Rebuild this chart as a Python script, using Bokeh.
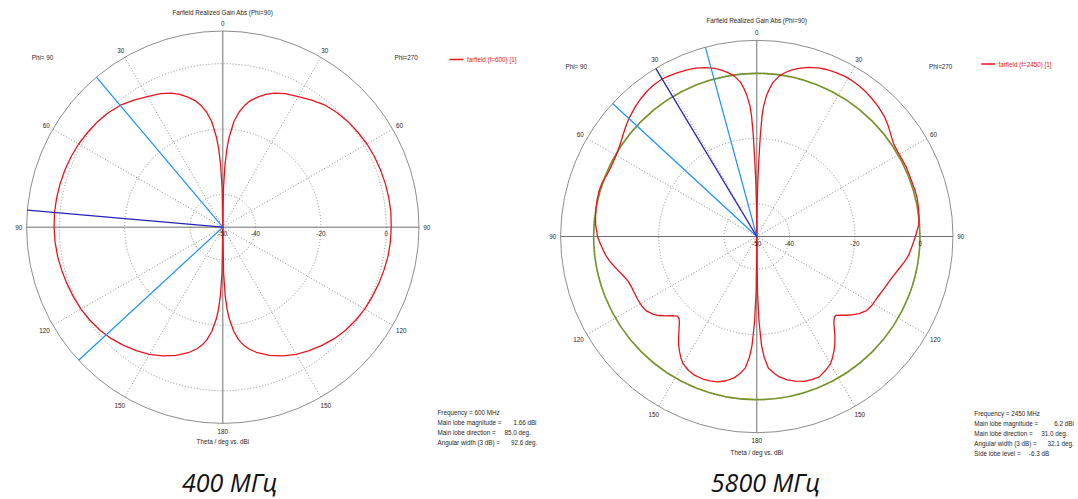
import numpy as np
from bokeh.plotting import figure
from bokeh.layouts import row
from bokeh.models import Range1d
from bokeh.core.properties import value
from bokeh.embed import file_html
from bokeh.resources import INLINE

# ---------------- data ----------------
# Theta (deg) sampling and realized gain (dBi) for both half-planes
theta_600 = [0, 1, 2, 3, 4, 6, 8, 10, 12, 15, 18, 21, 25, 30, 35, 40, 45, 50, 55, 60,
             65, 70, 75, 80, 85, 90, 95, 100, 105, 110, 115, 120, 125, 130, 135, 140,
             145, 150, 155, 160, 165, 168, 170, 172, 174, 176, 177, 178, 179, 180]
gain_600_phi90 = [-50, -38, -31, -26, -22.5, -17.5, -14.5, -12.3, -10.6, -8.8,
                  -7.3, -6.1, -4.9, -3.9, -2.6, -1.3, -0.5, 0.1, 0.5, 0.9,
                  1.15, 1.35, 1.5, 1.6, 1.66, 1.6, 1.5, 1.3, 1.0, 0.7,
                  0.4, 0.1, -0.4, -1.0, -1.8, -2.8, -3.9, -5.1, -6.6, -8.3,
                  -10.4, -12.0, -13.4, -15.3, -18.0, -22.0, -25.0, -29.0, -36.0, -50]
gain_600_phi270 = [-50, -38, -31, -26, -22.5, -17.5, -14.5, -12.3, -10.6, -8.8,
                   -7.3, -6.1, -4.9, -3.9, -2.6, -1.3, -0.5, 0.1, 0.5, 0.9,
                   1.15, 1.3, 1.45, 1.55, 1.6, 1.5, 1.45, 1.3, 1.0, 0.7,
                   0.4, 0.1, -0.4, -1.0, -1.8, -2.8, -3.9, -5.1, -6.6, -8.3,
                   -10.4, -12.0, -13.4, -15.3, -18.0, -22.0, -25.0, -29.0, -36.0, -50]

theta_2450 = [0, 0.5, 1, 1.5, 2, 2.5, 3, 4, 5, 6, 8, 10, 12, 14, 17, 20, 23, 26, 29, 31,
              34, 37, 40, 43, 47, 50, 53, 56, 59, 62, 65, 68, 71, 74, 77, 80, 83, 86, 90, 93,
              97, 100, 103, 106, 109, 112, 115, 118, 121, 124, 127, 129, 131, 133, 135, 136.5,
              138, 140, 142, 144, 146, 148, 150, 153, 156, 159, 162, 165, 168, 171, 173, 175,
              176.5, 177.5, 178.5, 179.3, 180]
gain_2450_phi90 = [-50, -42, -34, -27, -19, -13, -10, -6.8, -4.5, -2.6,
                   -0.4, 0.9, 2.0, 3.0, 4.0, 4.8, 5.3, 5.7, 6.0, 6.2,
                   6.1, 5.7, 5.1, 4.4, 3.3, 2.3, 1.3, 0.4, -0.2, -0.5,
                   -0.6, -0.4, 0.1, 0.2, 0.1, -0.1, -0.3, -0.6, -1.3, -2.2,
                   -3.4, -4.6, -6.0, -7.3, -8.3, -8.7, -8.8, -8.8, -8.9, -9.3,
                   -10.4, -11.6, -13.0, -14.5, -15.6, -15.5, -14.6, -13.0, -11.2, -9.3,
                   -7.7, -6.2, -5.0, -4.0, -3.5, -3.4, -3.6, -4.0, -4.9, -6.3,
                   -7.8, -9.6, -13.0, -16.7, -24.0, -33.0, -50]
gain_2450_phi270 = [-50, -42, -34, -27, -19, -13, -10, -6.6, -4.5, -2.6,
                    -0.4, 1.0, 2.1, 3.0, 4.1, 4.9, 5.4, 5.7, 5.9, 5.9,
                    5.7, 5.4, 4.9, 4.4, 3.5, 2.5, 1.4, 0.5, 0.3, 0.3,
                    0.4, 0.3, 0.3, 0.4, 0.4, 0.2, 0.0, -0.4, -1.5, -2.3,
                    -3.2, -4.3, -5.5, -6.5, -7.3, -7.9, -8.4, -8.8, -9.0, -9.5,
                    -10.8, -12.0, -13.3, -14.7, -15.9, -15.6, -14.8, -13.1, -11.2, -9.4,
                    -7.8, -6.3, -5.0, -3.9, -3.0, -3.1, -3.4, -4.2, -5.2, -6.6,
                    -8.0, -9.6, -13.0, -16.6, -24.0, -33.0, -50]

main_dir_600 = 85.0
beam_edges_600 = [40.1, 132.7]
main_dir_2450 = 31.0
beam_edges_2450 = [15.2, 47.3]
main_mag_2450 = 6.2
side_lobe_2450 = -6.3

ring_levels = [-40, -20, 0]
ring_labels = [-50, -40, -20, 0]
angle_ticks = [0, 30, 60, 90, 120, 150, 180]
dotted_spokes = [30, 60, 120, 150]

title_text = "Farfield Realized Gain Abs (Phi=90)"
axis_text = "Theta / deg vs. dBi"
legend_600 = "farfield (f=600) [1]"
legend_2450 = "farfield (f=2450) [1]"
info_600 = ["Frequency = 600 MHz", "Main lobe magnitude =", "Main lobe direction =",
            "Angular width (3 dB) ="]
vals_600 = ["", "1.66 dBi", "85.0 deg.", "92.6 deg."]
info_2450 = ["Frequency = 2450 MHz", "Main lobe magnitude =", "Main lobe direction =",
             "Angular width (3 dB) =", "Side lobe level ="]
vals_2450 = ["", "6.2 dBi", "31.0 deg.", "32.1 deg.", "-6.3 dB"]
caption_600 = "400 МГц"
caption_2450 = "5800 МГц"

# ---------------- layout / style ----------------
S = 3.27          # px per dB
GMIN, GMAX = -50.0, 10.0
H = 499
SMALL = "6.3px"
FONT = value("Liberation Sans")
RED = "#e8141c"
LBLUE = "#1e8fff"
DBLUE = "#2323b8"
OLIVE = "#76932a"
GRID = "#8c8c8c"
AXIS = "#6f6f6f"
TXT = "#1e1e1e"


def polar(theta, gains, side):
    t = np.radians(np.asarray(theta, float))
    r = np.clip(np.asarray(gains, float), GMIN, GMAX) - GMIN
    sgn = -1.0 if side == 90 else 1.0
    return sgn * r * np.sin(t), r * np.cos(t)


def px(dx, dy):
    return dx / S, -dy / S


def panel(W, cx, cy, theta, g90, g270, main_dir, edges, cfg, sll=None):
    p = figure(width=W, height=H, output_backend="svg", toolbar_location=None,
               x_range=Range1d(-cx / S, (W - cx) / S),
               y_range=Range1d(-(H - cy) / S, cy / S),
               x_axis_location=None, y_axis_location=None, min_border=0,
               outline_line_color=None, background_fill_color="white",
               border_fill_color="white")
    p.grid.visible = False
    R = GMAX - GMIN
    # dotted rings
    p.circle(x=[0] * len(ring_levels), y=[0] * len(ring_levels),
             radius=[g - GMIN for g in ring_levels], fill_color=None,
             line_color=GRID, line_dash="1 2", line_width=1)
    # dotted spokes
    xs0, ys0, xs1, ys1 = [], [], [], []
    for a in dotted_spokes:
        for side in (90, 270):
            x1, y1 = polar([a], [GMAX], side)
            xs0.append(0); ys0.append(0); xs1.append(x1[0]); ys1.append(y1[0])
    p.segment(x0=xs0, y0=ys0, x1=xs1, y1=ys1, line_color=GRID, line_dash="1 2", line_width=1)
    # outer circle and axes
    p.circle(x=[0], y=[0], radius=[R], fill_color=None, line_color=GRID, line_width=1)
    p.segment(x0=[0, -R], y0=[-R, 0], x1=[0, R], y1=[R, 0], line_color=AXIS, line_width=1)
    # side lobe level circle
    if sll is not None:
        p.circle(x=[0], y=[0], radius=[sll - GMIN], fill_color=None,
                 line_color=OLIVE, line_width=1.6)
    # pattern
    for gains, side in ((g90, 90), (g270, 270)):
        x, y = polar(theta, gains, side)
        p.line(x, y, line_color=RED, line_width=1.3)
    # beam-width and main lobe lines (phi=90 half)
    for a in edges:
        x1, y1 = polar([a], [GMAX], 90)
        p.line([0, x1[0]], [0, y1[0]], line_color=LBLUE, line_width=1.2)
    x1, y1 = polar([main_dir], [GMAX], 90)
    p.line([0, x1[0]], [0, y1[0]], line_color=DBLUE, line_width=1.3)

    # angle labels
    lx, ly, lt = [], [], []
    for a in angle_ticks:
        rr = 204 if (a < 100 or a == 180) else 206
        sides = (90,) if a in (0, 180) else (90, 270)
        for side in sides:
            sgn = -1 if side == 90 else 1
            t = np.radians(a)
            X, Y = px(sgn * rr * np.sin(t), -rr * np.cos(t))
            lx.append(X); ly.append(Y); lt.append(str(a))
    p.text(x=lx, y=ly, text=lt, text_font=FONT, text_font_size=SMALL, text_color=TXT,
           text_align="center", text_baseline="middle")
    # radial labels
    rx = [(g - GMIN) for g in ring_labels]
    ry = [-6.5 / S] * len(ring_labels)
    p.text(x=rx, y=ry, text=[str(g) for g in ring_labels], text_font=FONT,
           text_font_size=SMALL, text_color=TXT, text_align="center", text_baseline="middle")
    # title, axis label, phi labels
    tx, ty, tt = [], [], []
    for (dx, dy), s in ((cfg["title"], title_text), (cfg["axis"], axis_text),
                        (cfg["phi90"], "Phi= 90"), (cfg["phi270"], "Phi=270")):
        X, Y = px(dx, dy); tx.append(X); ty.append(Y); tt.append(s)
    p.text(x=tx, y=ty, text=tt, text_font=FONT, text_font_size=SMALL, text_color=TXT,
           text_align="center", text_baseline="middle")
    # legend
    (l0, l1, lyy), lt0 = cfg["leg_line"], cfg["leg_text"]
    a0, b0 = px(l0, lyy); a1, _ = px(l1, lyy)
    p.line([a0, a1], [b0, b0], line_color=RED, line_width=1.3)
    X, Y = px(lt0, lyy)
    p.text(x=[X], y=[Y], text=[cfg["legend"]], text_font=FONT, text_font_size=SMALL,
           text_color=RED, text_align="left", text_baseline="middle")
    # info block: labels left-aligned, values right-aligned
    ix, iy0, step = cfg["info"]
    xs, ys, ts = [], [], []
    vx, vy, vt = [], [], []
    for i, (lab, val) in enumerate(zip(cfg["info_lines"], cfg["info_vals"])):
        X, Y = px(ix, iy0 + i * step)
        xs.append(X); ys.append(Y); ts.append(lab)
        if val:
            X2, _ = px(cfg["val_end"][i], 0)
            vx.append(X2); vy.append(Y); vt.append(val)
    p.text(x=xs, y=ys, text=ts, text_font=FONT, text_font_size=SMALL, text_color=TXT,
           text_align="left", text_baseline="middle")
    p.text(x=vx, y=vy, text=vt, text_font=FONT, text_font_size=SMALL, text_color=TXT,
           text_align="right", text_baseline="middle")
    # caption
    X, Y = px(*cfg["cap_pos"])
    p.text(x=[X], y=[Y], text=[cfg["caption"]],
           text_font=value("Liberation Sans Narrow, Open Sans"), text_font_size="25px",
           text_font_style="italic", text_color="#111111",
           text_align="center", text_baseline="middle")
    return p


# page coordinates of the two polar centres: (222.3, 226.7) and (756.3, 236.0)
cfg_a = dict(title=(0, -215), axis=(0, 214.5), phi90=(-180.3, -170), phi270=(183.3, -170),
             leg_line=(226.7, 240.7, -167.7), leg_text=244.1, legend=legend_600,
             info=(214.7, 185.0, 10.0), info_lines=info_600, info_vals=vals_600,
             val_end=[0, 313.7, 308.0, 314.5], cap_pos=(6.9, 254.8), caption=caption_600)
cfg_b = dict(title=(0, -216), axis=(0, 216.3), phi90=(-180.6, -170), phi270=(183.9, -170),
             leg_line=(224.4, 238.2, -172.5), leg_text=241.7, legend=legend_2450,
             info=(217.5, 176.7, 10.0), info_lines=info_2450, info_vals=vals_2450,
             val_end=[0, 317.0, 310.7, 317.0, 292.3], cap_pos=(8.7, 245.5), caption=caption_2450)

p1 = panel(539, 222.3, 226.7, theta_600, gain_600_phi90, gain_600_phi270,
           main_dir_600, beam_edges_600, cfg_a)
p2 = panel(539, 217.3, 236.0, theta_2450, gain_2450_phi90, gain_2450_phi270,
           main_dir_2450, beam_edges_2450, cfg_b, sll=main_mag_2450 + side_lobe_2450)

layout = row(p1, p2)
open("out.html", "w").write(file_html(layout, INLINE))
